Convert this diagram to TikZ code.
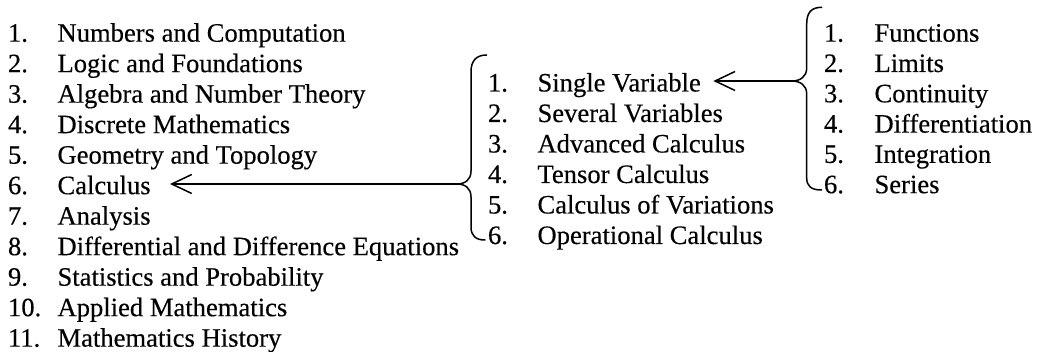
\documentclass[tikz,border=0pt]{standalone}
\usepackage{fontspec}
\setmainfont{Liberation Serif}[FakeBold=0.3]
\usetikzlibrary{arrows.meta}
\begin{document}
\begin{tikzpicture}[x=1pt,y=-1pt,
  item/.style={anchor=base west,inner sep=0pt,outer sep=0pt,font=\fontsize{26.6}{30}\selectfont},
  brace/.style={line width=1.5pt,line join=round,line cap=round},
  pointer/.style={line width=1.5pt,-{Straight Barb[length=20pt,width=19pt,line width=1.5pt]}}]
\useasboundingbox (0,0) rectangle (1037,352);
% left list
\foreach \t [count=\i] in {Numbers and Computation,Logic and Foundations,Algebra and Number Theory,Discrete Mathematics,Geometry and Topology,Calculus,Analysis,Differential and Difference Equations,Statistics and Probability,Applied Mathematics,Mathematics History}{
  \node[item] (Ln\i) at (8,{41.7+30.5*(\i-1)}) {\i.};
  \node[item] (L\i) at (57.5,{41.7+30.5*(\i-1)}) {\t};
}
% middle list
\foreach \t [count=\i] in {Single Variable,Several Variables,Advanced Calculus,Tensor Calculus,Calculus of Variations,Operational Calculus}{
  \node[item] (Mn\i) at (488,{91.5+30.5*(\i-1)}) {\i.};
  \node[item] (M\i) at (537.5,{91.5+30.5*(\i-1)}) {\t};
}
% right list
\foreach \t [count=\i] in {Functions,Limits,Continuity,Differentiation,Integration,Series}{
  \node[item] (Rn\i) at (824,{41.7+30.3*(\i-1)}) {\i.};
  \node[item] (R\i) at (874.5,{41.7+30.3*(\i-1)}) {\t};
}
% braces
\coordinate (midTip) at (456.7,184);
\coordinate (rightTip) at (791.7,81);
\coordinate (calcEnd) at (170,184);
\coordinate (svEnd) at (713.3,81);
\draw[brace] (486.7,55) .. controls (476,55) and (471,61) .. (471,72) -- (471,171)
  .. controls (471,180) and (465,184) .. (midTip)
  .. controls (465,184) and (471,188) .. (471,197) -- (471,227)
  .. controls (471,236) and (476,240) .. (485,240);
\draw[brace] (821.7,7.3) .. controls (811,7.3) and (806.7,13) .. (806.7,24) -- (806.7,68)
  .. controls (806.7,77) and (800,81) .. (rightTip)
  .. controls (800,81) and (806.7,85) .. (806.7,94) -- (806.7,178)
  .. controls (806.7,186) and (811,190) .. (821.7,190);
% arrows
\draw[pointer] (midTip) -- (calcEnd);
\draw[pointer] (rightTip) -- (svEnd);
\end{tikzpicture}
\end{document}
